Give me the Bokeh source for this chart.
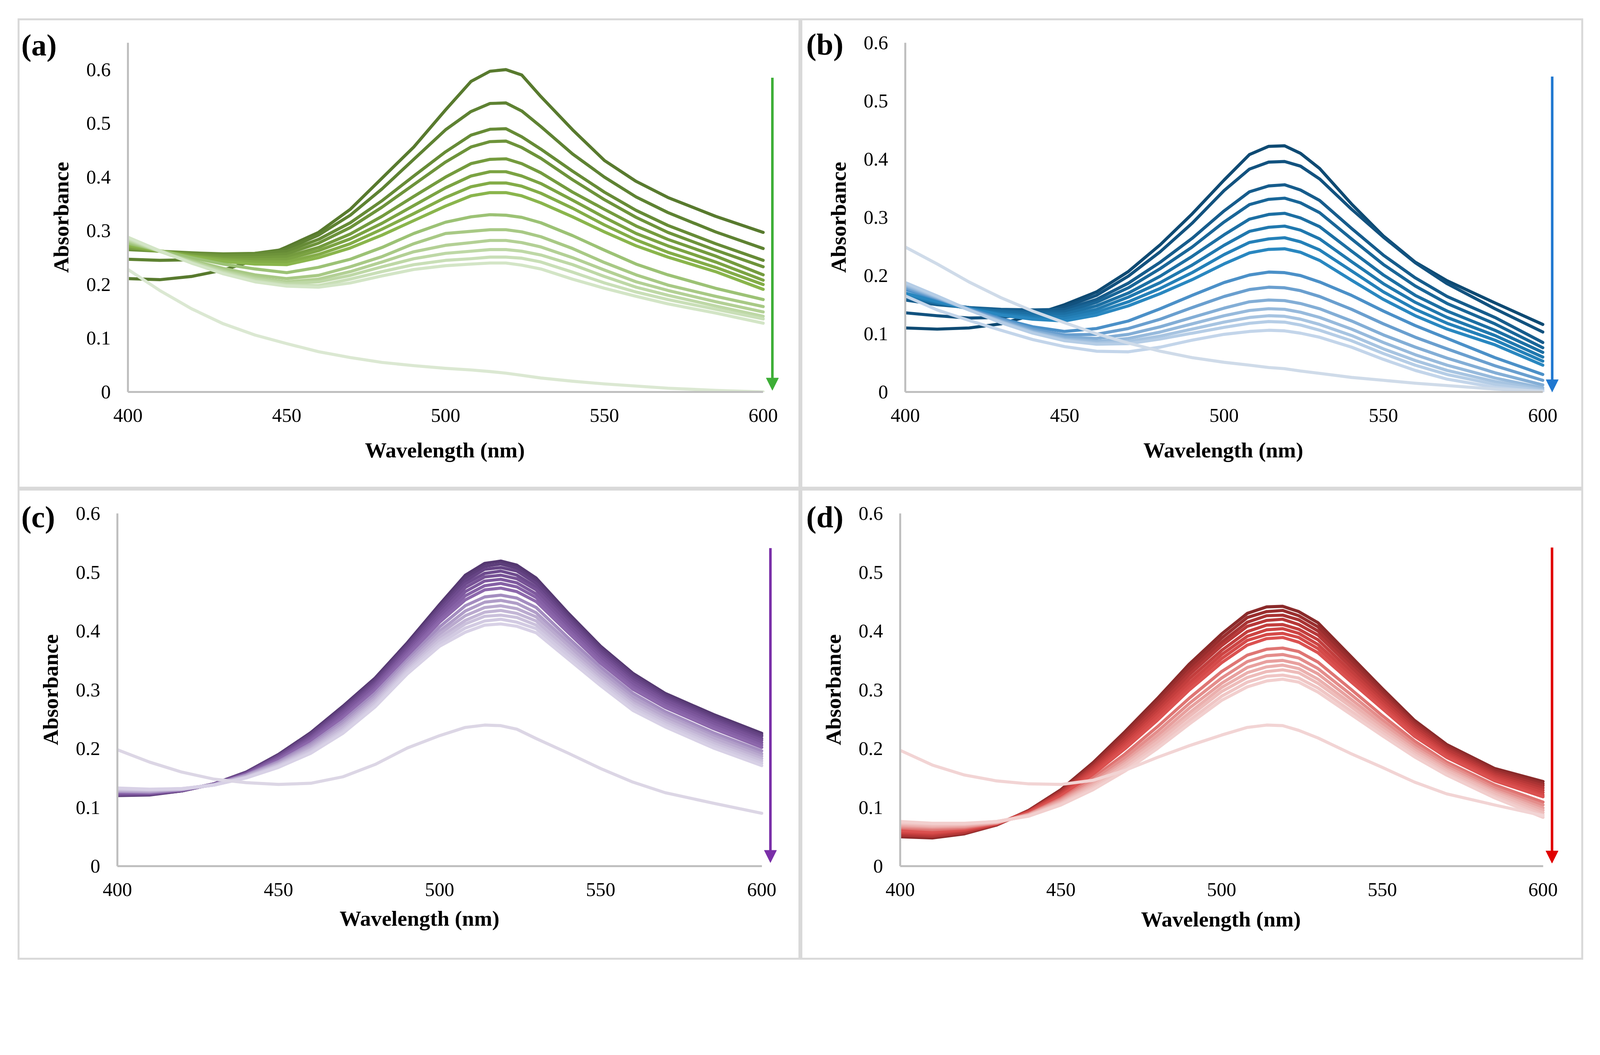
from bokeh.plotting import figure
from bokeh.layouts import column, row
from bokeh.models import Range1d, FixedTicker, Arrow, NormalHead, Div, Title
from bokeh.embed import file_html
from bokeh.resources import INLINE

# ---------------- data ----------------
WL = [400, 410, 420, 430, 440, 450, 460, 470, 480, 490, 500, 508, 514, 519, 524, 530, 540, 550, 560, 570, 585, 600]

X_TICKS = [400, 450, 500, 550, 600]
X_TICK_LABELS = ["400", "450", "500", "550", "600"]
Y_TICKS = [0, 0.1, 0.2, 0.3, 0.4, 0.5, 0.6]
Y_TICK_LABELS = ["0", "0.1", "0.2", "0.3", "0.4", "0.5", "0.6"]
X_TITLE = "Wavelength (nm)"
Y_TITLE = "Absorbance"
PANEL_TAGS = ["(a)", "(b)", "(c)", "(d)"]

# panel (a)
A_CURVES = [
    [.211, .209, .215, .227, .245, .270, .297, .340, .398, .456, .525, .578, .597, .600, .590, .550, .488, .431, .392, .362, .327, .297],
    [.247, .245, .246, .251, .258, .266, .292, .329, .378, .433, .488, .522, .537, .538, .523, .494, .443, .400, .363, .334, .298, .267],
    [.265, .262, .259, .257, .258, .262, .284, .315, .356, .402, .447, .478, .489, .490, .475, .452, .411, .372, .338, .310, .276, .245],
    [.267, .262, .257, .254, .254, .257, .277, .306, .344, .386, .428, .456, .466, .467, .455, .435, .395, .358, .325, .297, .264, .233],
    [.268, .262, .256, .251, .250, .252, .269, .294, .327, .364, .400, .425, .433, .434, .425, .408, .372, .340, .309, .284, .253, .218],
    [.270, .262, .254, .248, .246, .247, .263, .285, .314, .347, .380, .402, .410, .410, .402, .388, .357, .325, .295, .272, .242, .208],
    [.272, .262, .253, .246, .242, .242, .256, .276, .303, .332, .362, .382, .389, .389, .383, .370, .342, .311, .283, .260, .232, .200],
    [.274, .263, .252, .243, .238, .237, .250, .268, .292, .319, .346, .365, .371, .371, .365, .352, .326, .298, .272, .251, .224, .191],
    [.277, .263, .250, .238, .229, .222, .232, .247, .269, .295, .316, .326, .330, .329, .325, .315, .291, .264, .238, .218, .193, .172],
    [.280, .262, .245, .230, .218, .211, .217, .233, .252, .276, .295, .299, .302, .302, .298, .289, .267, .241, .218, .199, .178, .159],
    [.282, .262, .243, .226, .213, .205, .210, .224, .242, .261, .273, .278, .282, .282, .278, .270, .250, .227, .205, .189, .168, .149],
    [.284, .262, .242, .224, .210, .202, .205, .217, .233, .248, .258, .262, .265, .265, .262, .255, .237, .215, .195, .180, .160, .141],
    [.286, .262, .240, .222, .207, .199, .198, .210, .224, .237, .245, .248, .251, .251, .249, .242, .223, .203, .186, .172, .154, .136],
    [.288, .263, .240, .220, .205, .197, .195, .203, .216, .228, .235, .238, .240, .240, .236, .229, .210, .193, .178, .164, .147, .128],
]
A_BASE = [.228, .189, .155, .127, .106, .090, .075, .064, .055, .049, .044, .041, .038, .035, .031, .026, .020, .015, .011, .007, .003, .000]
A_COLORS = ["#587a2e", "#5e8232", "#668b36", "#6d933a", "#749b3e", "#7ba342", "#83ac47", "#8ab54c",
            "#9cc275", "#a8c985", "#b3d095", "#bed8a6", "#c9dfb7", "#d3e5c6"]
A_BASE_COLOR = "#dbe8d2"
A_ARROW_COLOR = "#3dae36"

# panel (b)
B_CURVES = [
    [.110, .108, .110, .117, .132, .150, .172, .207, .253, .306, .364, .408, .422, .423, .410, .384, .323, .268, .223, .191, .153, .116],
    [.136, .131, .127, .128, .135, .146, .166, .199, .241, .290, .346, .383, .395, .396, .388, .366, .314, .266, .222, .186, .143, .103],
    [.158, .150, .145, .142, .141, .142, .159, .187, .223, .264, .311, .344, .354, .356, .347, .329, .281, .235, .196, .164, .128, .085],
    [.162, .152, .145, .140, .137, .138, .154, .179, .212, .249, .292, .322, .331, .333, .325, .308, .263, .219, .182, .152, .117, .076],
    [.164, .153, .144, .138, .134, .134, .148, .170, .199, .233, .270, .297, .305, .307, .299, .284, .242, .201, .166, .139, .106, .068],
    [.166, .154, .143, .135, .130, .130, .142, .163, .188, .218, .252, .276, .283, .285, .278, .263, .224, .186, .154, .128, .097, .060],
    [.168, .155, .143, .133, .127, .126, .137, .155, .178, .205, .236, .257, .263, .265, .258, .244, .208, .172, .142, .118, .089, .053],
    [.170, .156, .143, .132, .125, .122, .132, .148, .169, .193, .220, .239, .245, .246, .240, .226, .192, .159, .131, .108, .081, .046],
    [.176, .160, .143, .126, .112, .104, .109, .122, .143, .166, .188, .201, .206, .205, .200, .189, .166, .139, .114, .092, .059, .030],
    [.179, .161, .142, .124, .108, .098, .099, .109, .125, .145, .164, .176, .180, .179, .174, .164, .142, .117, .094, .074, .045, .020],
    [.182, .162, .141, .122, .105, .094, .092, .099, .112, .128, .144, .155, .158, .157, .152, .143, .122, .098, .077, .058, .033, .012],
    [.184, .163, .141, .121, .103, .091, .087, .092, .103, .117, .131, .140, .143, .142, .137, .128, .108, .085, .064, .046, .024, .007],
    [.186, .164, .141, .120, .102, .089, .084, .087, .096, .108, .120, .128, .131, .130, .125, .116, .097, .074, .054, .037, .018, .004],
    [.188, .165, .141, .119, .101, .088, .082, .083, .091, .101, .111, .118, .121, .120, .115, .106, .088, .066, .046, .030, .013, .002],
    [.165, .141, .123, .106, .090, .078, .070, .069, .077, .089, .099, .104, .106, .105, .101, .094, .077, .056, .037, .022, .008, .000],
]
B_BASE = [.249, .220, .189, .162, .139, .119, .100, .084, .070, .059, .051, .046, .042, .040, .036, .032, .025, .020, .015, .011, .005, .001]
B_COLORS = ["#0e4a73", "#12527f", "#165c8c", "#196698", "#1c6fa3", "#2078ae", "#2480b8", "#2987c0",
            "#4b90c8", "#6a9fcf", "#83aed6", "#97badc", "#a7c4e1", "#b5cde6", "#c3d5ea"]
B_BASE_COLOR = "#cfdbe9"
B_ARROW_COLOR = "#1f78d0"

# panel (c)
C_CURVES = [
    [.120, .121, .128, .140, .160, .190, .227, .272, .320, .380, .445, .495, .515, .519, .512, .490, .430, .374, .328, .294, .258, .226],
    [.121, .122, .128, .140, .160, .189, .225, .270, .318, .377, .441, .490, .510, .514, .507, .485, .426, .371, .325, .291, .255, .223],
    [.121, .122, .128, .140, .159, .188, .224, .267, .315, .375, .438, .485, .505, .508, .502, .481, .422, .367, .322, .288, .252, .221],
    [.122, .123, .129, .140, .158, .187, .221, .265, .312, .372, .434, .480, .498, .502, .495, .475, .418, .363, .318, .285, .249, .217],
    [.123, .123, .129, .140, .158, .185, .219, .262, .309, .368, .429, .474, .492, .495, .489, .470, .413, .359, .314, .282, .246, .214],
    [.124, .124, .129, .139, .157, .184, .217, .259, .306, .365, .424, .467, .485, .488, .482, .463, .407, .355, .310, .278, .242, .210],
    [.125, .125, .129, .139, .156, .182, .214, .255, .302, .361, .419, .460, .477, .481, .475, .457, .402, .350, .305, .274, .238, .206],
    [.126, .125, .130, .139, .156, .181, .212, .252, .299, .357, .415, .453, .470, .473, .467, .450, .397, .345, .301, .270, .234, .202],
    [.127, .126, .130, .139, .155, .178, .208, .247, .294, .351, .407, .443, .458, .461, .456, .440, .388, .338, .294, .263, .227, .196],
    [.128, .127, .131, .139, .154, .176, .205, .243, .289, .347, .400, .434, .449, .452, .447, .431, .381, .332, .288, .258, .222, .191],
    [.129, .128, .131, .139, .153, .174, .202, .239, .285, .342, .395, .426, .440, .443, .438, .424, .375, .326, .283, .254, .218, .187],
    [.130, .129, .131, .138, .152, .173, .199, .236, .281, .338, .389, .418, .432, .435, .430, .417, .368, .321, .278, .249, .213, .183],
    [.131, .130, .131, .138, .151, .171, .197, .232, .278, .334, .384, .412, .425, .427, .423, .410, .363, .316, .274, .245, .209, .179],
    [.132, .130, .132, .138, .151, .170, .194, .229, .274, .331, .379, .405, .417, .420, .415, .404, .358, .312, .269, .241, .205, .175],
    [.133, .131, .132, .138, .150, .168, .192, .226, .271, .327, .374, .398, .410, .412, .408, .397, .352, .307, .265, .237, .201, .171],
]
C_BASE = [.198, .177, .160, .148, .142, .139, .141, .152, .173, .201, .222, .236, .240, .239, .233, .217, .192, .166, .143, .125, .107, .090]
C_COLORS = ["#553871", "#5d3e7b", "#664485", "#6e4b8e", "#775296", "#7e599e", "#8661a6", "#8d68ac",
            "#a48dc0", "#b09dc8", "#baaacf", "#c3b6d6", "#cbc1dc", "#d2cae2", "#d8d1e6"]
C_BASE_COLOR = "#dcd6e5"
C_ARROW_COLOR = "#7a2fa8"

# panel (d)
D_CURVES = [
    [.050, .048, .055, .070, .095, .130, .176, .229, .285, .344, .395, .430, .441, .442, .433, .414, .358, .302, .248, .207, .166, .144],
    [.052, .050, .056, .070, .094, .128, .173, .225, .280, .338, .388, .423, .433, .435, .426, .407, .352, .297, .244, .204, .163, .140],
    [.053, .051, .057, .071, .094, .127, .170, .221, .275, .332, .381, .415, .426, .427, .419, .400, .346, .292, .241, .201, .160, .137],
    [.055, .052, .058, .071, .093, .125, .168, .217, .270, .326, .375, .408, .418, .420, .411, .393, .340, .288, .237, .198, .157, .133],
    [.057, .054, .060, .072, .093, .124, .165, .212, .264, .319, .367, .399, .410, .411, .403, .385, .333, .282, .233, .194, .154, .129],
    [.058, .056, .061, .072, .092, .122, .162, .208, .259, .312, .360, .391, .402, .404, .396, .377, .327, .277, .229, .191, .151, .125],
    [.060, .057, .062, .072, .091, .120, .159, .204, .254, .306, .353, .384, .394, .396, .389, .370, .321, .272, .225, .188, .148, .121],
    [.061, .059, .063, .073, .091, .119, .156, .200, .248, .300, .346, .376, .387, .389, .381, .363, .315, .268, .221, .185, .145, .118],
    [.065, .062, .065, .073, .089, .115, .150, .191, .237, .286, .331, .359, .369, .371, .365, .347, .302, .256, .213, .177, .138, .109],
    [.067, .065, .067, .074, .088, .113, .146, .185, .229, .277, .320, .348, .358, .360, .354, .336, .293, .249, .207, .173, .133, .104],
    [.069, .067, .068, .074, .088, .111, .142, .179, .222, .269, .311, .338, .348, .350, .344, .327, .285, .243, .202, .169, .129, .099],
    [.071, .068, .070, .075, .087, .109, .139, .175, .216, .261, .304, .329, .339, .342, .336, .318, .278, .237, .198, .165, .126, .095],
    [.073, .070, .071, .075, .086, .107, .136, .171, .211, .255, .297, .321, .331, .334, .329, .311, .272, .232, .194, .162, .123, .091],
    [.074, .072, .072, .076, .086, .106, .133, .166, .205, .248, .289, .313, .323, .325, .320, .303, .265, .227, .190, .158, .119, .087],
    [.076, .073, .073, .076, .085, .104, .130, .162, .200, .242, .282, .305, .315, .318, .313, .296, .259, .222, .186, .155, .116, .083],
]
D_BASE = [.197, .172, .155, .145, .140, .139, .146, .163, .185, .205, .223, .236, .240, .239, .231, .218, .192, .168, .143, .123, .104, .086]
D_COLORS = ["#8a2a2a", "#9a2e2e", "#a93333", "#b73838", "#c33e3d", "#cd4443", "#d54a49", "#db5150",
            "#df7573", "#e48d8b", "#e8a09e", "#ebb0ae", "#eebcba", "#f0c6c5", "#f2cfce"]
D_BASE_COLOR = "#f2d4d4"
D_ARROW_COLOR = "#e00000"

# ---------------- layout & style ----------------
FONT = "Liberation Serif"
S = 4096 / 4419          # page CSS px per pixel of the reference picture
X_END = 606              # room on the right of 600 nm for the arrow

FIG_W = (2048, 2046)
ROW_H = (1251, 1245)
ORIGINS = [(0, 0), (FIG_W[0], 0), (0, ROW_H[0]), (FIG_W[0], ROW_H[0])]
SIZES = [(FIG_W[0], ROW_H[0]), (FIG_W[1], ROW_H[0]), (FIG_W[0], ROW_H[1]), (FIG_W[1], ROW_H[1])]

# frame geometry in reference pixels: x of 400 nm, x of 600 nm, y of 0, y of the range top
FRAMES = [(353, 2107, 1093, 118), (2500, 4260, 1082, 118), (324, 2103, 2394, 1418), (2486, 4261, 2392, 1418)]
Y_MAX = [0.65, 0.6, 0.6, 0.6]
ARROWS = [(602.9, 0.585, 0.003), (602.95, 0.542, 0.0), (602.7, 0.541, 0.006), (602.8, 0.542, 0.005)]
BOXES = [(48, 51, 2210, 1350), (2210, 51, 4372, 1350), (48, 1350, 2210, 2651), (2210, 1350, 4372, 2651)]
TAG_INK = [(63, 97), (2231, 95), (63, 1400), (2231, 1400)]
BOX_LINE = 5.5
TAG_FONT = 84
LINE_W = 8.5
TICK_FONT = 54 * S
TITLE_FONT = 60 * S
X_STANDOFF = int(round(46 * S))
X_TITLE_TOP = [124, 124, 108, 110]      # ref px from the x axis to the top of the x title
X_TITLE_CENTER = [500, 500, 494, 500]   # nm under the centre of the x title
X_TITLE_WIDTH = 7.416 * TITLE_FONT


def make_panel(i, curves, colors, base, base_color, arrow_color):
    ox, oy = ORIGINS[i]
    w, h = SIZES[i]
    xl, x6, y0, yt = FRAMES[i]
    ml = xl * S - ox
    ppn = (x6 - xl) * S / 200.0
    mr = w - ml - ppn * (X_END - 400)
    mt = yt * S - oy
    mb = h - (y0 * S - oy)
    p = figure(width=w, height=h,
               x_range=Range1d(400, X_END), y_range=Range1d(0, Y_MAX[i]),
               output_backend="svg", toolbar_location=None,
               min_border_left=int(round(ml)), min_border_right=int(round(mr)),
               min_border_top=int(round(mt)), min_border_bottom=int(round(mb)),
               background_fill_color="white", border_fill_color="white")
    p.outline_line_color = None
    p.xgrid.visible = False
    p.ygrid.visible = False

    lw = LINE_W * S
    for ys, c in zip(curves, colors):
        p.line(WL, ys, line_color=c, line_width=lw, line_join="round", line_cap="round")
    p.line(WL, base, line_color=base_color, line_width=lw, line_join="round", line_cap="round")

    p.xaxis.ticker = FixedTicker(ticks=X_TICKS)
    p.xaxis.major_label_overrides = {t: s for t, s in zip(X_TICKS, X_TICK_LABELS)}
    p.xaxis.bounds = (400, 600)
    p.yaxis.ticker = FixedTicker(ticks=Y_TICKS)
    p.yaxis.major_label_overrides = {t: s for t, s in zip(Y_TICKS, Y_TICK_LABELS)}
    p.yaxis.axis_label = Y_TITLE

    for ax in (p.xaxis[0], p.yaxis[0]):
        ax.axis_line_color = "#bfbfbf"
        ax.axis_line_width = 5.5 * S
        ax.major_tick_line_color = None
        ax.minor_tick_line_color = None
        ax.major_tick_out = 0
        ax.major_tick_in = 0
        ax.major_label_text_font = FONT
        ax.major_label_text_font_size = f"{TICK_FONT:.1f}px"
        ax.major_label_text_color = "black"
        ax.axis_label_text_font = FONT
        ax.axis_label_text_font_style = "bold"
        ax.axis_label_text_font_size = f"{TITLE_FONT:.1f}px"
        ax.axis_label_text_color = "black"
    p.xaxis.major_label_standoff = X_STANDOFF
    p.yaxis.major_label_standoff = int(round(47 * S))
    p.yaxis.axis_label_standoff = int(round(33 * S))

    # x title (the frame reaches past 600 nm to hold the arrow, so it is placed explicitly)
    standoff = 2 * (X_TITLE_TOP[i] * S - X_STANDOFF - 0.676 * TICK_FONT)
    offset = (X_TITLE_CENTER[i] - 400) * ppn - X_TITLE_WIDTH / 2
    p.add_layout(Title(text=X_TITLE, align="left", vertical_align="top",
                       offset=offset, standoff=standoff,
                       text_font=FONT, text_font_style="bold",
                       text_font_size=f"{TITLE_FONT:.1f}px", text_color="black"), "below")

    ax_x, a_top, a_tip = ARROWS[i]
    p.add_layout(Arrow(end=NormalHead(size=34 * S, fill_color=arrow_color, line_color=arrow_color),
                       x_start=ax_x, y_start=a_top, x_end=ax_x, y_end=a_tip,
                       line_color=arrow_color, line_width=7 * S))
    return p


def make_box(i):
    l, t, r, b = BOXES[i]
    bw = BOX_LINE * S
    fs = TAG_FONT * S
    ix, iy = TAG_INK[i]
    pad_l = ix * S - (l * S + bw) - 0.05 * fs
    pad_t = iy * S - (t * S + bw) - 0.1475 * fs
    return Div(text=PANEL_TAGS[i], margin=0, styles={
        "position": "absolute",
        "left": f"{l * S:.1f}px", "top": f"{t * S:.1f}px",
        "width": f"{(r - l) * S:.1f}px", "height": f"{(b - t) * S:.1f}px",
        "box-sizing": "border-box",
        "border": f"{bw:.1f}px solid #d9d9d9",
        "padding-left": f"{pad_l:.1f}px", "padding-top": f"{pad_t:.1f}px",
        "font-family": FONT, "font-weight": "bold", "font-size": f"{fs:.1f}px",
        "line-height": "1", "color": "black",
        "background": "transparent", "pointer-events": "none",
    })


fa = make_panel(0, A_CURVES, A_COLORS, A_BASE, A_BASE_COLOR, A_ARROW_COLOR)
fb = make_panel(1, B_CURVES, B_COLORS, B_BASE, B_BASE_COLOR, B_ARROW_COLOR)
fc = make_panel(2, C_CURVES, C_COLORS, C_BASE, C_BASE_COLOR, C_ARROW_COLOR)
fd = make_panel(3, D_CURVES, D_COLORS, D_BASE, D_BASE_COLOR, D_ARROW_COLOR)

layout = column(row(fa, fb), row(fc, fd))
boxes = [make_box(i) for i in range(4)]
open("out.html", "w").write(file_html([layout] + boxes, INLINE))
